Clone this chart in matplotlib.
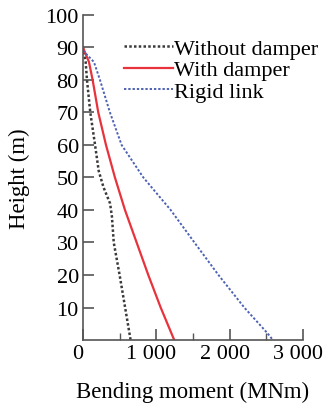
import numpy as np
import matplotlib
matplotlib.use('Agg')
import matplotlib.pyplot as plt
import matplotlib.transforms as mtransforms

plt.rcParams['font.family'] = ['Liberation Serif', 'DejaVu Serif']

# Datos (momento flector en MNm, altura en m)
h_sin = [90, 85.5, 80, 70, 60, 52, 47, 42, 38, 30, 20, 10, 0]
m_sin = [0, 37, 55, 100, 165, 215, 280, 370, 395, 420, 500, 575, 650]

h_con = [90, 85.5, 80, 70, 60, 50, 40, 30, 20, 10, 0]
m_con = [0, 82, 132, 209, 314, 436, 573, 732, 891, 1060, 1245]

h_rig = [89, 85.5, 80, 70, 60, 50, 40, 30, 20, 10, 2, 0]
m_rig = [0, 150, 232, 368, 527, 823, 1196, 1520, 1848, 2200, 2520, 2590]

etiquetas = ['Without damper', 'With damper', 'Rigid link']
xticks = [0, 1000, 2000, 3000]
xticklabels = ['0', '1 000', '2 000', '3 000']
yticks = [10, 20, 30, 40, 50, 60, 70, 80, 90, 100]

fig = plt.figure(figsize=(3.24, 4.06), dpi=100)
ax = fig.add_axes([0.256, 0.160, 0.679, 0.801])

ax.plot(m_sin, h_sin, color='#3a3a3a', linestyle=(0, (1.0, 0.9)), linewidth=1.8, label=etiquetas[0])
ax.plot(m_con, h_con, color='#e8323c', linestyle='-', linewidth=1.6, label=etiquetas[1])
ax.plot(m_rig, h_rig, color='#4d62b3', linestyle=(0, (1.2, 1.0)), linewidth=1.4, label=etiquetas[2])

ax.set_xlim(0, 3000)
ax.set_ylim(0, 100)
ax.set_xticks(xticks)
ax.set_xticklabels(xticklabels)
ax.set_xticks([500, 1500, 2500], minor=True)
ax.set_yticks(yticks)

ax.spines['top'].set_visible(False)
ax.spines['right'].set_visible(False)
for s in ['left', 'bottom']:
    ax.spines[s].set_color('#555555')
    ax.spines[s].set_linewidth(1.2)

ax.tick_params(axis='both', which='major', direction='in', length=8, width=1.2,
               color='#555555', labelsize=16, pad=3)
ax.tick_params(axis='x', which='minor', direction='in', length=5, width=1.0, color='#555555')

# Desplazar las etiquetas del eje x un poco a la izquierda, como en el original
desplazamiento = mtransforms.ScaledTranslation(-5 / 100, 0, fig.dpi_scale_trans)
for lbl in ax.get_xticklabels():
    lbl.set_transform(lbl.get_transform() + desplazamiento)

ax.set_xlabel('Bending moment (MNm)', fontsize=16.4, labelpad=13)
ax.set_ylabel('Height (m)', fontsize=16.4, labelpad=11)

leg = ax.legend(loc='upper left', bbox_to_anchor=(0.148, 0.955), frameon=False,
                fontsize=16, handlelength=2.2, handletextpad=0.05,
                labelspacing=0.04, borderaxespad=0.0)

fig.savefig('out.png', dpi=100)
